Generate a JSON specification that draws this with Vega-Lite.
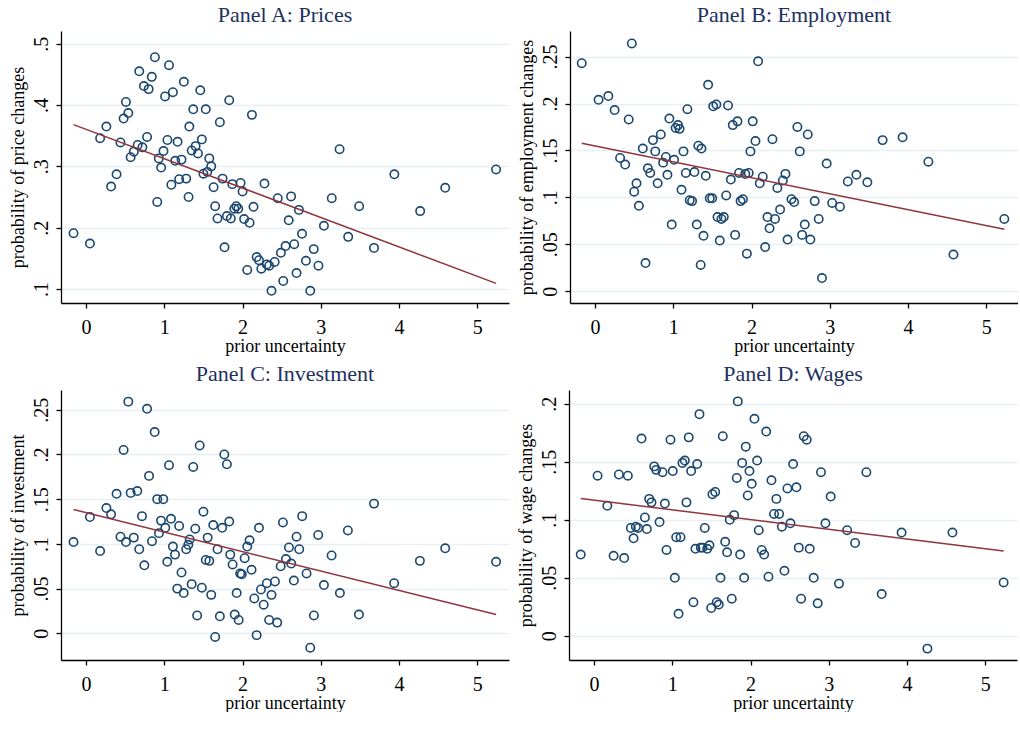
{
"$schema": "https://vega.github.io/schema/vega-lite/v6.json",
"background": "white",
"padding": {"left": 9, "top": 4, "right": 0, "bottom": 0},
"spacing": 8,
"config": {
  "view": {"stroke": null},
  "font": "Liberation Serif",
  "title": {"font": "Liberation Serif", "fontSize": 22, "fontWeight": "normal", "color": "#1e3160", "offset": 4, "frame": "group", "anchor": "middle"},
  "axis": {"labelFont": "Liberation Serif", "titleFont": "Liberation Serif", "labelFontSize": 20, "titleFontSize": 18, "titleFontWeight": "normal", "labelColor": "#000", "titleColor": "#000", "domainColor": "#000", "tickColor": "#000", "domainWidth": 1.3, "tickWidth": 1.3, "tickSize": 5},
  "axisX": {"grid": false, "labelPadding": 9, "titlePadding": 0},
  "axisY": {"grid": true, "gridColor": "#e6eff1", "gridWidth": 1.5, "labelAngle": -90, "labelAlign": "center", "labelBaseline": "bottom", "labelPadding": 5, "titlePadding": 4, "labelExpr": "datum.value == 0 ? '0' : replace(format(datum.value, '~g'), /^0\\./, '.')"},
  "concat": {"spacing": 8}
},
"datasets": {
"A": [
{"x":-0.16,"y":0.191},{"x":0.05,"y":0.174},{"x":0.18,"y":0.346},{"x":0.26,"y":0.365},{"x":0.32,"y":0.267},{"x":0.39,"y":0.287},{"x":0.44,"y":0.339},{"x":0.48,"y":0.378},{"x":0.51,"y":0.405},{"x":0.54,"y":0.387},
{"x":0.57,"y":0.315},{"x":0.61,"y":0.324},{"x":0.66,"y":0.335},{"x":0.68,"y":0.455},{"x":0.72,"y":0.331},{"x":0.74,"y":0.431},{"x":0.78,"y":0.348},{"x":0.80,"y":0.426},{"x":0.84,"y":0.446},{"x":0.88,"y":0.478},
{"x":0.91,"y":0.242},{"x":0.93,"y":0.313},{"x":0.96,"y":0.298},{"x":0.99,"y":0.325},{"x":1.01,"y":0.414},{"x":1.04,"y":0.343},{"x":1.06,"y":0.465},{"x":1.09,"y":0.270},{"x":1.11,"y":0.421},{"x":1.14,"y":0.309},
{"x":1.17,"y":0.340},{"x":1.19,"y":0.279},{"x":1.22,"y":0.311},{"x":1.25,"y":0.438},{"x":1.28,"y":0.280},{"x":1.31,"y":0.250},{"x":1.32,"y":0.365},{"x":1.35,"y":0.326},{"x":1.37,"y":0.393},{"x":1.40,"y":0.333},
{"x":1.43,"y":0.321},{"x":1.46,"y":0.424},{"x":1.48,"y":0.344},{"x":1.50,"y":0.288},{"x":1.53,"y":0.393},{"x":1.55,"y":0.291},{"x":1.575,"y":0.313},{"x":1.60,"y":0.300},{"x":1.63,"y":0.266},{"x":1.65,"y":0.235},
{"x":1.68,"y":0.215},{"x":1.71,"y":0.372},{"x":1.745,"y":0.280},{"x":1.77,"y":0.168},{"x":1.80,"y":0.219},{"x":1.83,"y":0.408},{"x":1.85,"y":0.215},{"x":1.87,"y":0.271},{"x":1.895,"y":0.231},{"x":1.92,"y":0.235},
{"x":1.945,"y":0.231},{"x":1.975,"y":0.273},{"x":2.00,"y":0.259},{"x":2.02,"y":0.214},{"x":2.06,"y":0.131},{"x":2.09,"y":0.208},{"x":2.12,"y":0.384},{"x":2.14,"y":0.234},{"x":2.18,"y":0.152},{"x":2.21,"y":0.147},
{"x":2.24,"y":0.133},{"x":2.28,"y":0.272},{"x":2.31,"y":0.140},{"x":2.34,"y":0.138},{"x":2.37,"y":0.097},{"x":2.41,"y":0.144},{"x":2.45,"y":0.248},{"x":2.49,"y":0.159},{"x":2.52,"y":0.113},{"x":2.55,"y":0.170},
{"x":2.59,"y":0.212},{"x":2.62,"y":0.251},{"x":2.66,"y":0.173},{"x":2.69,"y":0.126},{"x":2.72,"y":0.229},{"x":2.76,"y":0.190},{"x":2.81,"y":0.146},{"x":2.865,"y":0.097},{"x":2.91,"y":0.165},{"x":2.97,"y":0.138},
{"x":3.04,"y":0.203},{"x":3.14,"y":0.248},{"x":3.24,"y":0.328},{"x":3.35,"y":0.185},{"x":3.49,"y":0.235},{"x":3.68,"y":0.167},{"x":3.94,"y":0.287},{"x":4.27,"y":0.227},{"x":4.59,"y":0.265},{"x":5.24,"y":0.295}
],
"B": [
{"x":-0.17,"y":0.243},{"x":0.47,"y":0.264},{"x":0.045,"y":0.204},{"x":0.17,"y":0.208},{"x":0.25,"y":0.193},{"x":0.43,"y":0.183},{"x":0.32,"y":0.142},{"x":0.385,"y":0.135},{"x":0.61,"y":0.152},{"x":0.74,"y":0.161},
{"x":0.77,"y":0.149},{"x":0.84,"y":0.167},{"x":0.53,"y":0.115},{"x":0.50,"y":0.106},{"x":0.56,"y":0.091},{"x":0.675,"y":0.131},{"x":0.705,"y":0.126},{"x":0.80,"y":0.115},{"x":0.645,"y":0.030},{"x":0.87,"y":0.137},
{"x":0.905,"y":0.143},{"x":0.925,"y":0.124},{"x":0.95,"y":0.184},{"x":0.98,"y":0.071},{"x":1.01,"y":0.140},{"x":1.03,"y":0.174},{"x":1.06,"y":0.177},{"x":1.08,"y":0.173},{"x":1.105,"y":0.108},{"x":1.13,"y":0.149},
{"x":1.16,"y":0.126},{"x":1.18,"y":0.194},{"x":1.21,"y":0.097},{"x":1.24,"y":0.096},{"x":1.27,"y":0.127},{"x":1.30,"y":0.071},{"x":1.32,"y":0.155},{"x":1.35,"y":0.028},{"x":1.36,"y":0.152},{"x":1.386,"y":0.059},
{"x":1.415,"y":0.123},{"x":1.445,"y":0.220},{"x":1.466,"y":0.099},{"x":1.497,"y":0.099},{"x":1.51,"y":0.197},{"x":1.55,"y":0.199},{"x":1.565,"y":0.079},{"x":1.594,"y":0.054},{"x":1.615,"y":0.077},{"x":1.645,"y":0.079},
{"x":1.676,"y":0.102},{"x":1.70,"y":0.198},{"x":1.735,"y":0.119},{"x":1.76,"y":0.177},{"x":1.79,"y":0.060},{"x":1.82,"y":0.181},{"x":1.84,"y":0.126},{"x":1.86,"y":0.096},{"x":1.89,"y":0.098},{"x":1.92,"y":0.125},
{"x":1.94,"y":0.040},{"x":1.964,"y":0.126},{"x":1.986,"y":0.149},{"x":2.015,"y":0.181},{"x":2.05,"y":0.160},{"x":2.084,"y":0.245},{"x":2.105,"y":0.115},{"x":2.143,"y":0.122},{"x":2.174,"y":0.047},{"x":2.203,"y":0.079},
{"x":2.23,"y":0.067},{"x":2.267,"y":0.162},{"x":2.30,"y":0.077},{"x":2.33,"y":0.110},{"x":2.365,"y":0.087},{"x":2.40,"y":0.118},{"x":2.433,"y":0.125},{"x":2.46,"y":0.055},{"x":2.51,"y":0.098},{"x":2.544,"y":0.095},
{"x":2.586,"y":0.175},{"x":2.616,"y":0.149},{"x":2.646,"y":0.060},{"x":2.68,"y":0.071},{"x":2.718,"y":0.167},{"x":2.752,"y":0.055},{"x":2.807,"y":0.096},{"x":2.858,"y":0.077},{"x":2.90,"y":0.014},{"x":2.96,"y":0.136},
{"x":3.03,"y":0.094},{"x":3.13,"y":0.090},{"x":3.23,"y":0.117},{"x":3.34,"y":0.124},{"x":3.48,"y":0.116},{"x":3.675,"y":0.161},{"x":3.93,"y":0.164},{"x":4.26,"y":0.138},{"x":4.58,"y":0.039},{"x":5.23,"y":0.077}
],
"C": [
{"x":-0.16,"y":0.102},{"x":0.05,"y":0.130},{"x":0.18,"y":0.092},{"x":0.26,"y":0.140},{"x":0.32,"y":0.133},{"x":0.39,"y":0.156},{"x":0.44,"y":0.108},{"x":0.48,"y":0.205},{"x":0.51,"y":0.102},{"x":0.54,"y":0.259},
{"x":0.57,"y":0.157},{"x":0.61,"y":0.107},{"x":0.655,"y":0.159},{"x":0.68,"y":0.094},{"x":0.715,"y":0.131},{"x":0.745,"y":0.076},{"x":0.78,"y":0.251},{"x":0.805,"y":0.176},{"x":0.843,"y":0.103},{"x":0.877,"y":0.225},
{"x":0.91,"y":0.150},{"x":0.932,"y":0.112},{"x":0.958,"y":0.126},{"x":0.987,"y":0.150},{"x":1.013,"y":0.118},{"x":1.038,"y":0.080},{"x":1.06,"y":0.188},{"x":1.086,"y":0.128},{"x":1.11,"y":0.097},{"x":1.137,"y":0.088},
{"x":1.166,"y":0.050},{"x":1.19,"y":0.120},{"x":1.22,"y":0.068},{"x":1.248,"y":0.045},{"x":1.28,"y":0.094},{"x":1.307,"y":0.099},{"x":1.324,"y":0.105},{"x":1.35,"y":0.055},{"x":1.37,"y":0.186},{"x":1.396,"y":0.117},
{"x":1.42,"y":0.020},{"x":1.452,"y":0.210},{"x":1.48,"y":0.051},{"x":1.50,"y":0.136},{"x":1.53,"y":0.082},{"x":1.554,"y":0.107},{"x":1.575,"y":0.081},{"x":1.60,"y":0.043},{"x":1.626,"y":0.121},{"x":1.65,"y":-0.004},
{"x":1.68,"y":0.094},{"x":1.71,"y":0.019},{"x":1.74,"y":0.118},{"x":1.767,"y":0.200},{"x":1.80,"y":0.189},{"x":1.83,"y":0.125},{"x":1.843,"y":0.088},{"x":1.873,"y":0.077},{"x":1.90,"y":0.021},{"x":1.925,"y":0.045},
{"x":1.95,"y":0.015},{"x":1.97,"y":0.067},{"x":1.99,"y":0.066},{"x":2.027,"y":0.084},{"x":2.06,"y":0.097},{"x":2.09,"y":0.104},{"x":2.115,"y":0.071},{"x":2.15,"y":0.039},{"x":2.18,"y":-0.002},{"x":2.21,"y":0.118},
{"x":2.235,"y":0.049},{"x":2.27,"y":0.032},{"x":2.31,"y":0.056},{"x":2.34,"y":0.015},{"x":2.37,"y":0.043},{"x":2.414,"y":0.058},{"x":2.443,"y":0.012},{"x":2.487,"y":0.075},{"x":2.516,"y":0.124},{"x":2.554,"y":0.083},
{"x":2.593,"y":0.096},{"x":2.622,"y":0.078},{"x":2.656,"y":0.059},{"x":2.69,"y":0.108},{"x":2.724,"y":0.094},{"x":2.762,"y":0.131},{"x":2.818,"y":0.067},{"x":2.865,"y":-0.016},{"x":2.912,"y":0.020},{"x":2.967,"y":0.110},
{"x":3.04,"y":0.054},{"x":3.138,"y":0.087},{"x":3.244,"y":0.045},{"x":3.346,"y":0.115},{"x":3.487,"y":0.021},{"x":3.68,"y":0.145},{"x":3.937,"y":0.056},{"x":4.266,"y":0.081},{"x":4.59,"y":0.095},{"x":5.24,"y":0.080}
],
"D": [
{"x":-0.17,"y":0.070},{"x":0.045,"y":0.138},{"x":0.17,"y":0.112},{"x":0.25,"y":0.069},{"x":0.317,"y":0.139},{"x":0.385,"y":0.067},{"x":0.432,"y":0.138},{"x":0.47,"y":0.093},{"x":0.505,"y":0.084},{"x":0.534,"y":0.094},
{"x":0.564,"y":0.093},{"x":0.607,"y":0.170},{"x":0.65,"y":0.102},{"x":0.675,"y":0.092},{"x":0.705,"y":0.118},{"x":0.734,"y":0.115},{"x":0.769,"y":0.146},{"x":0.794,"y":0.143},{"x":0.837,"y":0.098},{"x":0.875,"y":0.141},
{"x":0.905,"y":0.114},{"x":0.926,"y":0.074},{"x":0.977,"y":0.169},{"x":1.006,"y":0.142},{"x":1.032,"y":0.050},{"x":1.05,"y":0.085},{"x":1.08,"y":0.019},{"x":1.105,"y":0.085},{"x":1.13,"y":0.149},{"x":1.16,"y":0.151},
{"x":1.181,"y":0.115},{"x":1.21,"y":0.171},{"x":1.241,"y":0.142},{"x":1.27,"y":0.029},{"x":1.296,"y":0.075},{"x":1.318,"y":0.148},{"x":1.347,"y":0.191},{"x":1.364,"y":0.076},{"x":1.386,"y":0.076},{"x":1.415,"y":0.093},
{"x":1.446,"y":0.075},{"x":1.475,"y":0.078},{"x":1.497,"y":0.024},{"x":1.513,"y":0.122},{"x":1.548,"y":0.124},{"x":1.568,"y":0.029},{"x":1.594,"y":0.027},{"x":1.616,"y":0.050},{"x":1.645,"y":0.172},{"x":1.676,"y":0.081},
{"x":1.70,"y":0.072},{"x":1.734,"y":0.100},{"x":1.76,"y":0.032},{"x":1.79,"y":0.104},{"x":1.824,"y":0.136},{"x":1.837,"y":0.202},{"x":1.867,"y":0.070},{"x":1.893,"y":0.149},{"x":1.918,"y":0.050},{"x":1.939,"y":0.163},
{"x":1.964,"y":0.121},{"x":1.986,"y":0.142},{"x":2.015,"y":0.131},{"x":2.05,"y":0.187},{"x":2.084,"y":0.151},{"x":2.105,"y":0.091},{"x":2.143,"y":0.074},{"x":2.174,"y":0.070},{"x":2.2,"y":0.176},{"x":2.229,"y":0.051},
{"x":2.267,"y":0.134},{"x":2.30,"y":0.105},{"x":2.33,"y":0.118},{"x":2.365,"y":0.105},{"x":2.40,"y":0.094},{"x":2.433,"y":0.056},{"x":2.471,"y":0.127},{"x":2.51,"y":0.097},{"x":2.544,"y":0.148},{"x":2.586,"y":0.128},
{"x":2.616,"y":0.076},{"x":2.646,"y":0.032},{"x":2.68,"y":0.172},{"x":2.718,"y":0.169},{"x":2.756,"y":0.075},{"x":2.807,"y":0.050},{"x":2.858,"y":0.028},{"x":2.90,"y":0.141},{"x":2.957,"y":0.097},{"x":3.024,"y":0.120},
{"x":3.13,"y":0.045},{"x":3.234,"y":0.091},{"x":3.336,"y":0.080},{"x":3.48,"y":0.141},{"x":3.676,"y":0.036},{"x":3.93,"y":0.089},{"x":4.26,"y":-0.011},{"x":4.58,"y":0.089},{"x":5.234,"y":0.046}
]
},
"vconcat": [
{"hconcat": [
{"title": "Panel A: Prices", "width": 448, "height": 272, "data": {"name": "A"},
 "layer": [
  {"mark": {"type": "point", "shape": "circle", "filled": false, "color": "#1a476f", "size": 70, "strokeWidth": 1.6, "opacity": 1},
   "encoding": {"x": {"field": "x", "type": "quantitative", "scale": {"domain": [-0.32, 5.405], "nice": false, "zero": false}, "axis": {"values": [0,1,2,3,4,5], "format": "d", "title": "prior uncertainty"}},
                "y": {"field": "y", "type": "quantitative", "scale": {"domain": [0.0771, 0.5208], "nice": false, "zero": false}, "axis": {"values": [0.1,0.2,0.3,0.4,0.5], "title": "probability of price changes"}}}},
  {"transform": [{"regression": "y", "on": "x"}],
   "mark": {"type": "line", "color": "#90353b", "strokeWidth": 1.5},
   "encoding": {"x": {"field": "x", "type": "quantitative"}, "y": {"field": "y", "type": "quantitative"}}}
 ]},
{"title": "Panel B: Employment", "width": 448, "height": 272, "data": {"name": "B"},
 "layer": [
  {"mark": {"type": "point", "shape": "circle", "filled": false, "color": "#1a476f", "size": 70, "strokeWidth": 1.6, "opacity": 1},
   "encoding": {"x": {"field": "x", "type": "quantitative", "scale": {"domain": [-0.32, 5.405], "nice": false, "zero": false}, "axis": {"values": [0,1,2,3,4,5], "format": "d", "title": "prior uncertainty"}},
                "y": {"field": "y", "type": "quantitative", "scale": {"domain": [-0.0126, 0.2773], "nice": false, "zero": false}, "axis": {"values": [0,0.05,0.1,0.15,0.2,0.25], "title": "probability of employment changes"}}}},
  {"transform": [{"regression": "y", "on": "x"}],
   "mark": {"type": "line", "color": "#90353b", "strokeWidth": 1.5},
   "encoding": {"x": {"field": "x", "type": "quantitative"}, "y": {"field": "y", "type": "quantitative"}}}
 ]}
]},
{"hconcat": [
{"title": "Panel C: Investment", "width": 448, "height": 270, "data": {"name": "C"},
 "layer": [
  {"mark": {"type": "point", "shape": "circle", "filled": false, "color": "#1a476f", "size": 70, "strokeWidth": 1.6, "opacity": 1},
   "encoding": {"x": {"field": "x", "type": "quantitative", "scale": {"domain": [-0.32, 5.405], "nice": false, "zero": false}, "axis": {"values": [0,1,2,3,4,5], "format": "d", "title": "prior uncertainty"}},
                "y": {"field": "y", "type": "quantitative", "scale": {"domain": [-0.0298, 0.272], "nice": false, "zero": false}, "axis": {"values": [0,0.05,0.1,0.15,0.2,0.25], "title": "probability of investment"}}}},
  {"transform": [{"regression": "y", "on": "x"}],
   "mark": {"type": "line", "color": "#90353b", "strokeWidth": 1.5},
   "encoding": {"x": {"field": "x", "type": "quantitative"}, "y": {"field": "y", "type": "quantitative"}}}
 ]},
{"title": "Panel D: Wages", "width": 448, "height": 270, "data": {"name": "D"},
 "layer": [
  {"mark": {"type": "point", "shape": "circle", "filled": false, "color": "#1a476f", "size": 70, "strokeWidth": 1.6, "opacity": 1},
   "encoding": {"x": {"field": "x", "type": "quantitative", "scale": {"domain": [-0.32, 5.405], "nice": false, "zero": false}, "axis": {"values": [0,1,2,3,4,5], "format": "d", "title": "prior uncertainty"}},
                "y": {"field": "y", "type": "quantitative", "scale": {"domain": [-0.0208, 0.2118], "nice": false, "zero": false}, "axis": {"values": [0,0.05,0.1,0.15,0.2], "title": "probability of wage changes"}}}},
  {"transform": [{"regression": "y", "on": "x"}],
   "mark": {"type": "line", "color": "#90353b", "strokeWidth": 1.5},
   "encoding": {"x": {"field": "x", "type": "quantitative"}, "y": {"field": "y", "type": "quantitative"}}}
 ]}
]}
]
}
